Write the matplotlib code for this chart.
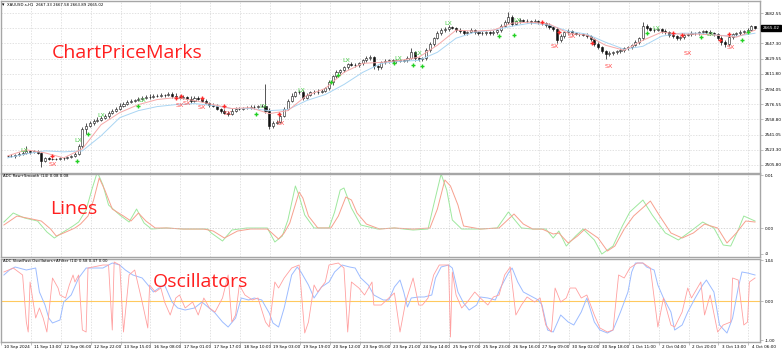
import numpy as np
import matplotlib
matplotlib.use("Agg")
import matplotlib.pyplot as plt
from matplotlib.transforms import blended_transform_factory

plt.rcParams['font.family'] = ['DejaVu Sans']

# ---------------- data (XAUUSD, candles of 2 hours, x in hours) ----------------
header = "XAUUSD.s,H1  2667.33 2667.58 2663.89 2665.02"
last_price = 2665.02
first_open = 2515.9
closes = [
    2516.3, 2515.8, 2517.5, 2518.7, 2519.8, 2522.2, 2521.0, 2521.5, 2519.8, 2510.5,
    2514.0, 2512.8, 2512.5, 2513.2, 2514.0, 2513.6, 2515.2, 2516.3, 2518.7, 2528.0,
    2547.9, 2551.4, 2555.0, 2557.3, 2558.5, 2560.8, 2563.2, 2566.7, 2569.0, 2571.3,
    2574.9, 2577.2, 2579.5, 2580.7, 2581.9, 2583.1, 2584.2, 2585.4, 2585.0, 2586.6,
    2586.2, 2587.7, 2587.3, 2588.9, 2586.6, 2585.4, 2584.2, 2585.4, 2583.1, 2580.7,
    2584.2, 2583.1, 2580.7, 2578.4, 2576.0, 2574.9, 2571.3, 2569.0, 2566.7, 2565.5,
    2569.0, 2571.3, 2571.0, 2572.5, 2572.2, 2573.7, 2573.3, 2574.9, 2574.5, 2569.0,
    2551.4, 2555.0, 2556.1, 2563.2, 2571.3, 2580.7, 2586.6, 2590.1, 2591.2, 2584.2,
    2587.7, 2590.1, 2591.2, 2590.8, 2592.4, 2594.8, 2601.8, 2608.8, 2613.5, 2615.8,
    2619.3, 2622.9, 2622.5, 2621.7, 2624.0, 2627.5, 2629.9, 2631.0, 2620.5, 2619.3,
    2625.2, 2626.4, 2627.5, 2626.4, 2627.5, 2627.2, 2627.8, 2629.9, 2636.9, 2629.9,
    2628.7, 2629.9, 2639.2, 2646.3, 2653.3, 2659.1, 2662.7, 2663.8, 2666.2, 2665.0,
    2662.7, 2661.5, 2659.1, 2660.3, 2662.7, 2660.3, 2659.1, 2658.8, 2660.3, 2659.1,
    2660.3, 2662.7, 2667.3, 2672.0, 2677.9, 2669.7, 2673.2, 2674.4, 2673.2, 2672.8,
    2672.0, 2673.2, 2672.0, 2670.9, 2668.5, 2666.2, 2663.8, 2650.9, 2655.6, 2660.3,
    2661.5, 2659.1, 2658.7, 2658.0, 2657.6, 2655.6, 2652.1, 2646.3, 2642.8, 2638.1,
    2634.6, 2635.7, 2636.9, 2638.1, 2639.2, 2641.6, 2642.8, 2645.1, 2648.6, 2653.3,
    2667.3, 2665.0, 2662.7, 2663.1, 2663.8, 2661.5, 2660.3, 2656.8, 2655.6, 2653.3,
    2654.5, 2656.8, 2658.0, 2659.1, 2658.8, 2660.3, 2661.5, 2660.3, 2659.1, 2658.0,
    2653.3, 2648.6, 2646.3, 2654.5, 2658.0, 2659.1, 2660.3, 2661.5, 2662.7, 2667.33,
    2665.02,
]
wick_up = [
    1.2, 1.8, 1.0, 1.6, 2.2, 6.0, 1.4, 1.9, 1.1, 1.5,
    1.3, 0.9, 1.2, 1.0, 1.4, 0.8, 1.1, 1.5, 1.8, 2.4,
    2.0, 3.1, 2.2, 1.6, 2.5, 1.7, 2.0, 1.5, 2.2, 1.8,
    2.6, 1.4, 1.9, 2.3, 1.2, 1.8, 2.1, 1.5, 2.4, 1.3,
    1.7, 2.2, 1.1, 2.0, 1.6, 2.4, 1.3, 1.9, 1.2, 2.8,
    1.5, 2.1, 1.4, 1.8, 1.2, 2.0, 1.6, 1.3, 2.2, 1.7,
    2.5, 1.4, 1.8, 1.1, 2.0, 1.5, 1.9, 1.2, 1.6, 25.4,
    3.0, 2.2, 1.8, 2.5, 2.0, 1.6, 2.8, 1.9, 1.4, 2.3,
    1.8, 2.0, 1.3, 2.6, 1.5, 2.1, 2.4, 1.8, 3.0, 1.6,
    2.2, 1.9, 2.7, 1.4, 2.0, 1.6, 2.5, 3.2, 1.8, 2.1,
    1.5, 2.3, 1.7, 1.2, 2.0, 1.4, 1.8, 2.2, 4.7, 1.6,
    2.0, 1.5, 2.4, 2.1, 1.8, 2.6, 1.9, 2.3, 2.0, 1.5,
    1.7, 2.2, 1.3, 1.9, 2.5, 1.4, 1.8, 2.0, 1.6, 1.2,
    2.1, 1.7, 2.4, 3.0, 5.8, 2.0, 1.8, 2.5, 1.4, 1.9,
    1.6, 2.2, 1.3, 1.8, 1.5, 2.0, 1.7, 2.3, 3.0, 1.6,
    2.4, 1.5, 1.9, 1.2, 1.7, 2.1, 1.4, 1.8, 2.0, 1.3,
    1.9, 2.2, 1.5, 1.7, 2.4, 1.3, 1.8, 2.0, 2.6, 1.9,
    4.7, 2.1, 1.6, 2.3, 1.4, 1.8, 2.0, 1.5, 2.2, 1.7,
    1.3, 2.0, 1.6, 2.4, 1.5, 1.9, 1.2, 1.8, 2.1, 1.4,
    1.6, 2.2, 2.5, 3.0, 1.8, 1.4, 2.0, 1.6, 2.3, 1.5,
    0.25,
]
wick_dn = [
    1.4, 1.0, 1.7, 1.2, 1.5, 1.1, 2.0, 1.3, 1.6, 7.0,
    1.8, 1.2, 1.5, 0.9, 1.3, 1.6, 1.0, 1.4, 1.2, 1.8,
    2.5, 5.8, 1.9, 2.2, 1.6, 2.0, 1.4, 2.3, 1.7, 1.5,
    2.1, 1.8, 1.3, 2.0, 1.6, 1.2, 1.9, 1.4, 2.2, 1.1,
    1.5, 1.8, 2.0, 1.3, 2.4, 1.6, 1.9, 1.2, 2.1, 2.6,
    1.7, 1.4, 2.2, 1.8, 2.5, 1.6, 2.0, 2.3, 1.9, 2.8,
    1.5, 2.0, 1.3, 1.8, 1.6, 1.2, 1.9, 1.4, 1.7, 2.2,
    3.5, 2.4, 2.0, 1.8, 2.2, 1.5, 2.0, 1.6, 1.9, 3.0,
    2.1, 1.4, 1.8, 2.2, 1.3, 1.9, 1.6, 2.4, 1.7, 2.0,
    1.5, 2.2, 1.8, 2.0, 1.4, 1.7, 2.3, 1.5, 2.5, 2.8,
    1.8, 1.6, 2.1, 1.4, 1.9, 1.5, 2.0, 1.7, 1.3, 2.6,
    1.9, 2.2, 1.6, 1.8, 2.4, 1.5, 2.0, 1.7, 2.2, 1.4,
    1.8, 2.0, 1.6, 2.3, 1.5, 1.9, 2.1, 1.4, 1.7, 2.0,
    1.6, 2.2, 1.8, 1.5, 2.0, 2.7, 1.4, 1.9, 1.6, 2.1,
    1.8, 1.5, 2.0, 1.7, 2.2, 1.9, 2.4, 3.5, 2.0, 1.6,
    1.8, 2.1, 1.5, 1.9, 1.6, 2.0, 2.3, 2.6, 1.8, 2.4,
    6.0, 2.0, 1.7, 1.9, 1.5, 2.1, 1.6, 1.8, 1.4, 2.0,
    1.8, 2.2, 1.6, 2.0, 1.5, 1.9, 2.1, 2.4, 1.7, 2.0,
    1.6, 1.9, 1.5, 1.8, 2.2, 1.4, 1.7, 2.0, 1.6, 2.3,
    2.5, 2.8, 3.0, 1.8, 1.6, 2.0, 1.5, 1.7, 1.9, 1.6,
    1.13,
]
# moving averages on the price chart, one value every 10 hours
ma_fast = [2516.3, 2523.4, 2519.8, 2514.0, 2524.5, 2552.6, 2566.7, 2576.0, 2581.9, 2584.2,
           2580.7, 2576.0, 2571.4, 2572.5, 2565.5, 2569.0, 2586.6, 2594.8, 2613.5, 2624.0,
           2625.2, 2627.5, 2631.1, 2645.1, 2662.7, 2661.5, 2662.7, 2670.9, 2672.0, 2669.7,
           2659.1, 2656.8, 2645.1, 2639.2, 2650.9, 2660.3, 2658.0, 2658.0, 2656.8, 2654.5,
           2662.7]
ma_slow = [2514.0, 2518.7, 2522.2, 2521.0, 2522.2, 2539.7, 2560.8, 2569.0, 2573.7, 2576.0,
           2577.2, 2574.9, 2571.4, 2571.4, 2569.0, 2570.2, 2580.7, 2587.7, 2599.4, 2613.5,
           2624.0, 2626.4, 2627.5, 2636.9, 2653.3, 2660.3, 2662.7, 2667.3, 2670.9, 2668.5,
           2661.5, 2658.0, 2648.6, 2640.4, 2643.9, 2655.6, 2659.1, 2659.1, 2656.8, 2655.6,
           2659.1]
# signal marks (hour, price)
green_plus_h = [37, 43, 70, 133, 173, 177, 207, 217, 222, 263, 271, 342, 371, 393, 396]
green_plus_p = [2510.5, 2542.1, 2574.9, 2565.5, 2601.8, 2610.0, 2624.0, 2621.7, 2620.5,
                2655.6, 2656.8, 2659.1, 2654.5, 2650.9, 2660.3]
lx_h = [9, 38, 50, 72, 137, 157, 181, 209, 220, 236, 273, 347, 376]
lx_p = [2522.2, 2533.9, 2563.2, 2580.7, 2573.7, 2592.4, 2627.5, 2629.9, 2635.7,
        2670.9, 2674.4, 2665.0, 2658.0]
red_plus_h = [24, 90, 93, 104, 116, 145, 286, 295, 313, 356, 361, 381, 386]
red_plus_p = [2516.3, 2584.2, 2586.6, 2584.2, 2574.9, 2565.5, 2672.0, 2660.3, 2647.4,
              2659.1, 2656.8, 2650.9, 2658.0]
sx_h = [24, 92, 96, 104, 118, 146, 293, 302, 322, 364, 387]
sx_p = [2505.8, 2574.9, 2577.2, 2572.5, 2565.5, 2553.8, 2643.9, 2655.6, 2620.5,
        2635.7, 2642.8]
price_ticks = [2682.55, 2665.05, 2647.30, 2629.55, 2611.80, 2594.05, 2576.55,
               2558.80, 2541.05, 2523.30, 2505.80]

# ADC Raw+Smooth
raw_h = [-2, 5, 13, 18, 23, 26, 30, 36, 39, 43, 46, 49, 52, 56, 62, 66, 70, 74, 79, 85,
         94, 105, 110, 116, 123, 130, 139, 145, 148, 151, 156, 158, 161, 166, 173, 177, 181, 184, 187, 192,
         199, 207, 217, 226, 230, 234, 237, 241, 244, 253, 263, 271, 276, 281, 286, 292, 295, 300, 305, 309,
         316, 321, 325, 330, 335, 344, 349, 355, 361, 367, 373, 380, 385, 390, 395, 400]
raw_v = [0.00057, 0.00226, 0.0017, 0.00132, -0.00019, -0.00151, -0.00094, 0.0, 0.00075, 0.00226,
         0.00528, 0.00943, 0.00717, 0.00358, 0.00226, 0.00132, 0.00283, 0.00132, 0.0, 0.0,
         -0.00019, -0.00019, -0.00057, -0.00189, -0.00057, -0.00019, -0.00019, -0.00208, -0.00094, 0.00094,
         0.00679, 0.00566, 0.00226, 0.0, 0.0, 0.00226, 0.00585, 0.00528, 0.00283, 0.00075,
         -0.00019, 0.0, -0.00019, 0.0, 0.00358, 0.00906, 0.00793, 0.00434, 0.00038, -0.00019,
         0.0, 0.00264, 0.00075, -0.00019, -0.00019, -0.00113, -0.00094, -0.00283, -0.00151, -0.00019,
         -0.00189, -0.00434, -0.0034, -0.00019, 0.00226, 0.00509, 0.00226, -0.00094, -0.00189, -0.00094,
         0.00075, 0.0, -0.00283, -0.00094, 0.00132, 0.00113]
smooth_h = [-2, 3, 9, 16, 21, 25, 29, 35, 38, 42, 45, 48, 51, 54, 60, 65, 69, 73, 77, 85,
            94, 107, 109, 115, 120, 128, 139, 143, 147, 150, 154, 156, 159, 164, 172, 175, 178, 180, 184, 189,
            198, 207, 217, 225, 228, 232, 235, 238, 243, 253, 262, 268, 271, 275, 281, 288, 292, 295, 299, 304,
            308, 314, 318, 324, 329, 333, 340, 345, 352, 359, 365, 372, 378, 383, 387, 391, 394, 400]
smooth_v = [0.00113, 0.00283, 0.00189, 0.00132, -0.00075, -0.00189, -0.00094, 0.00038, 0.00113, 0.0034,
            0.00717, 0.01057, 0.00811, 0.00434, 0.00245, 0.00113, 0.00358, 0.00094, -0.00019, 0.0,
            -0.00019, -0.00019, -0.00094, -0.00245, -0.00038, 0.0, 0.0, -0.00264, -0.00151, 0.00151,
            0.00793, 0.00604, 0.00245, 0.0, 0.0, 0.00302, 0.00717, 0.00755, 0.00377, 0.00057,
            -0.00019, 0.0, -0.00038, -0.00019, 0.00434, 0.01019, 0.00717, 0.00151, -0.00019, -0.00019,
            0.0, 0.00302, 0.0017, 0.0, -0.00019, -0.00019, -0.00189, -0.00057, -0.0034, -0.00151,
            -0.00019, -0.00226, -0.00491, -0.0034, 0.00038, 0.00302, 0.00528, 0.00245, -0.00094, -0.00226,
            -0.00075, 0.00113, 0.0, -0.00321, -0.0034, -0.00038, 0.00226, 0.00132]

# ADC Slow/Fast oscillators
slow_h = [-2, 1, 4, 10, 15, 17, 20, 22, 24, 28, 30, 34, 38, 42, 51, 56, 60, 63, 67, 72,
          76, 78, 81, 84, 88, 91, 95, 100, 104, 111, 115, 118, 122, 125, 129, 132, 136, 140, 142, 145,
          148, 152, 155, 157, 161, 164, 168, 172, 175, 179, 183, 186, 189, 193, 196, 201, 204, 207, 210, 212,
          214, 216, 220, 223, 227, 229, 232, 236, 238, 241, 244, 247, 251, 253, 257, 261, 264, 268, 270, 273,
          276, 281, 284, 286, 289, 292, 296, 300, 303, 307, 310, 314, 317, 321, 324, 328, 332, 334, 336, 340,
          342, 346, 348, 351, 355, 357, 361, 364, 368, 372, 374, 378, 381, 385, 388, 391, 393, 396, 400]
slow_v = [0.667, 0.795, 0.872, 0.795, 0.846, 0.231, -0.103, -0.436, -0.564, -0.487,
          -0.026, 0.154, 0.59, 0.846, 0.846, 0.974, 0.923, 0.795, 0.667, 0.59,
          0.359, 0.231, 0.333, 0.41, -0.026, -0.179, -0.231, -0.179, -0.026, -0.308,
          -0.538, -0.667, -0.436, 0.077, 0.026, 0.077, 0.026, -0.308, -0.564, -0.667,
          -0.179, 0.667, 0.872, 0.744, 0.41, 0.077, 0.359, 0.487, 0.744, 0.923,
          0.872, 0.846, 0.59, 0.41, 0.154, 0.026, 0.026, 0.359, 0.538, 0.231,
          -0.154, 0.077, 0.103, 0.103, 0.154, 0.59, 0.872, 0.923, 0.846, 0.231,
          -0.051, -0.231, -0.103, 0.103, 0.077, 0.026, 0.359, 0.718, 0.846, 0.487,
          0.231, 0.103, 0.026, -0.103, -0.744, -0.795, -0.359, -0.538, -0.615, -0.282,
          0.077, -0.538, -0.744, -0.821, -0.744, -0.282, 0.231, 0.744, 0.974, 0.974,
          0.872, 0.795, 0.41, 0.077, -0.282, -0.744, -0.615, -0.282, 0.077, 0.41,
          0.538, 0.231, -0.615, -0.821, -0.436, 0.333, 0.744, 0.718, 0.667]
fast_h = [-2, 3, 8, 10, 11, 12, 15, 17, 19, 21, 24, 27, 28, 31, 33, 35, 36, 38, 40, 42,
          43, 51, 54, 56, 57, 60, 62, 65, 68, 72, 75, 76, 79, 82, 84, 87, 90, 92, 95, 99,
          102, 105, 108, 111, 115, 118, 120, 122, 124, 127, 131, 134, 138, 140, 143, 145, 148, 152, 156, 159,
          161, 164, 166, 170, 172, 177, 180, 182, 184, 188, 191, 195, 196, 200, 204, 207, 210, 213, 217, 220,
          222, 225, 228, 231, 236, 237, 238, 240, 243, 246, 250, 253, 257, 260, 263, 266, 269, 272, 275, 278,
          282, 285, 288, 291, 293, 296, 299, 301, 304, 307, 310, 314, 317, 321, 324, 327, 330, 333, 337, 340,
          344, 348, 351, 355, 357, 361, 364, 366, 371, 373, 376, 380, 383, 387, 388, 391, 394, 396, 397, 400]
fast_v = [0.744, 0.846, 0.667, -0.538, -0.795, 0.487, -0.436, -0.179, -0.436, -0.795,
          0.59, 0.333, 0.154, 0.077, 0.41, 0.667, 0.487, 0.667, -0.744, -0.795,
          0.846, 0.923, 0.923, -0.744, 1.0, 0.923, -0.795, 0.667, 0.795, -0.026,
          -0.692, 0.41, 0.231, 0.333, -0.026, -0.359, 0.077, 0.154, -0.179, -0.026,
          -0.359, 0.077, -0.179, -0.282, 0.077, 0.667, -0.538, -0.359, 0.41, 0.154,
          0.026, 0.077, -0.538, -0.667, 0.487, 0.333, 0.59, 0.846, 0.923, -0.821,
          -0.538, 0.41, 0.231, 0.487, 0.923, 0.974, 0.846, -0.795, 0.487, 0.333,
          0.154, 0.487, -0.103, -0.103, 0.077, 0.205, -0.795, -0.026, 0.59, -0.103,
          -0.103, 0.077, 0.667, 0.923, 0.923, -0.923, 0.744, 0.154, -0.179, -0.026,
          0.231, 0.077, -0.103, 0.103, 0.154, 0.667, 0.872, -0.359, -0.103, 0.103,
          -0.026, 0.077, -0.615, -0.795, 0.333, -0.026, 0.077, 0.333, 0.333, 0.077,
          0.154, -0.359, -0.692, -0.795, -0.744, 0.667, 0.59, 0.846, 0.974, 0.974,
          0.846, -0.667, 0.077, -0.615, -0.667, -0.282, 0.333, 0.077, 0.487, -0.359,
          0.154, -0.795, -0.615, -0.538, 0.59, 0.538, -0.615, -0.538, 0.487, 0.59]

time_labels = ["10 Sep 2024", "11 Sep 13:00", "12 Sep 06:00", "12 Sep 22:00", "13 Sep 15:00",
               "16 Sep 08:00", "17 Sep 01:00", "17 Sep 17:00", "18 Sep 10:00", "19 Sep 03:00",
               "19 Sep 19:00", "20 Sep 12:00", "23 Sep 05:00", "23 Sep 21:00", "24 Sep 14:00",
               "25 Sep 07:00", "25 Sep 23:00", "26 Sep 16:00", "27 Sep 09:00", "30 Sep 02:00",
               "30 Sep 18:00", "1 Oct 11:00", "2 Oct 04:00", "2 Oct 20:00", "3 Oct 13:00",
               "4 Oct 06:00"]

# ---------------- layout ----------------
W, H = 782, 351
fig = plt.figure(figsize=(W / 100, H / 100), dpi=100)
fig.patch.set_facecolor('white')


def rect(x0, y0, x1, y1):
    return [x0 / W, 1 - y1 / H, (x1 - x0) / W, (y1 - y0) / H]


def px(x, y):
    return x / W, 1 - y / H


ax1 = fig.add_axes(rect(1, 1, 760, 173))
ax2 = fig.add_axes(rect(1, 174, 760, 257), sharex=ax1)
ax3 = fig.add_axes(rect(1, 259, 760, 342), sharex=ax1)

FS = 3.0
border = '#a6a6a6'
gridc = '#d6d6d6'
for ax in (ax1, ax2, ax3):
    ax.set_facecolor('white')
    for s in ax.spines.values():
        s.set_color(border)
        s.set_linewidth(1.0)
    ax.yaxis.tick_right()
    ax.tick_params(axis='y', which='major', length=2, width=0.5, pad=1.2,
                   labelsize=FS, labelcolor='black', color=border)

# ---------------- candles ----------------
c = np.array(closes)
o = np.r_[first_open, c[:-1]]
top = np.maximum(o, c)
bot = np.minimum(o, c)
hi = top + np.array(wick_up)
lo = bot - np.array(wick_dn)
hx = 2 * np.arange(len(c))
ax1.vlines(hx, lo, hi, color='#111111', lw=0.5, zorder=2)
body = np.maximum(top - bot, 0.35)
up = c >= o
ax1.bar(hx[up], body[up], bottom=bot[up], width=1.1, color='white',
        edgecolor='#111111', linewidth=0.4, zorder=2.5)
ax1.bar(hx[~up], body[~up], bottom=bot[~up], width=1.1, color='#111111',
        edgecolor='#111111', linewidth=0.4, zorder=2.5)

ma_h = np.arange(0, 10 * len(ma_fast), 10)
ax1.plot(ma_h, ma_slow, color='#a9d5f3', lw=0.7, zorder=3)
ax1.plot(ma_h, ma_fast, color='#f6a8a8', lw=0.7, zorder=3)

ax1.plot(green_plus_h, green_plus_p, '+', color='#22d022', ms=3.2, mew=1.0, zorder=4)
ax1.plot(red_plus_h, red_plus_p, '+', color='#ff2a2a', ms=3.2, mew=1.0, zorder=4)
for h, p in zip(lx_h, lx_p):
    ax1.text(h, p, 'LX', color='#4ccc4c', fontsize=4.6, ha='center', va='center', zorder=5)
for h, p in zip(sx_h, sx_p):
    ax1.text(h, p, 'SX', color='#ff4d4d', fontsize=4.6, ha='center', va='center', zorder=5)

ax1.set_ylim(2496.4, 2696.6)
ax1.set_yticks(price_ticks)
# the 2665.05 level is covered by the current-price box, so its own label is left blank
ax1.set_yticklabels(["" if abs(v - last_price) < 1 else f"{v:.2f}" for v in price_ticks])
ax1.grid(axis='y', color=gridc, lw=0.5, ls=(0, (2, 2)))

trans = blended_transform_factory(ax1.transAxes, ax1.transData)
ax1.text(1.0 + 2.5 / 759, last_price, f"{last_price:.2f}", transform=trans, ha='left',
         va='center', fontsize=FS, color='white', clip_on=False, zorder=10,
         bbox=dict(boxstyle='square,pad=0.3', fc='black', ec='black'))

# ---------------- panel 2 ----------------
ax2.plot(smooth_h, smooth_v, color='#9ee89e', lw=0.7)
ax2.plot(raw_h, raw_v, color='#f7a08e', lw=0.7)
ax2.axhline(0, color='#c8c8c8', lw=0.5, ls=(0, (2, 2)))
ax2.set_ylim(-0.00547, 0.01019)
ax2.set_yticks([0.01, 0.0, -0.0049])
ax2.set_yticklabels(['0.01', '0.00', '-0'])

# ---------------- panel 3 ----------------
ax3.axhline(0, color='#ffc95e', lw=0.8)
ax3.plot(slow_h, slow_v, color='#9dbcff', lw=0.7)
ax3.plot(fast_h, fast_v, color='#ffa0a0', lw=0.6)
ax3.set_ylim(-1.051, 1.077)
ax3.set_yticks([1.04, 0.0, -1.0])
ax3.set_yticklabels(['1.04', '0.00', '-1.00'])

# ---------------- time axis ----------------
ax1.set_xlim(-2.13, 402.67)
label_pos = -1.76 + 16 * np.arange(len(time_labels))
grid_pos = label_pos - 1.8
ax3.set_xticks(label_pos)
ax3.set_xticklabels(time_labels, ha='left', fontsize=FS)
ax3.set_xticks(grid_pos, minor=True)
ax3.tick_params(axis='x', which='major', length=0, pad=2.2)
ax3.tick_params(axis='x', which='minor', length=2, width=0.5, color=border)
for ax in (ax1, ax2, ax3):
    ax.grid(axis='x', which='minor', color=gridc, lw=0.5, ls=(0, (2, 2)))
    ax.grid(axis='x', which='major', visible=False)
for ax in (ax1, ax2):
    ax.tick_params(axis='x', which='both', bottom=False, labelbottom=False)

# ---------------- texts ----------------
fig.text(*px(2, 4.6), "\u25be", fontsize=3.4, va='center', ha='left')
fig.text(*px(7, 4.6), header, fontsize=2.8, va='center', ha='left')
fig.text(*px(3, 176.5), "ADC Raw+Smooth (14) 0.08 0.08", fontsize=2.8, va='center', ha='left')
fig.text(*px(3, 261.5), "ADC Slow/Fast Oscillators+AFilter (14) 0.58 0.47 0.00",
         fontsize=2.8, va='center', ha='left')

big = dict(fontsize=14, color='#ff1f1f', family=['Open Sans', 'DejaVu Sans'],
           va='baseline', ha='left')
fig.text(*px(52, 58), "ChartPriceMarks", **big)
fig.text(*px(50, 214), "Lines", **big)
fig.text(*px(153, 287), "Oscillators", **big)

fig.savefig('out.png', dpi=100, facecolor='white')
